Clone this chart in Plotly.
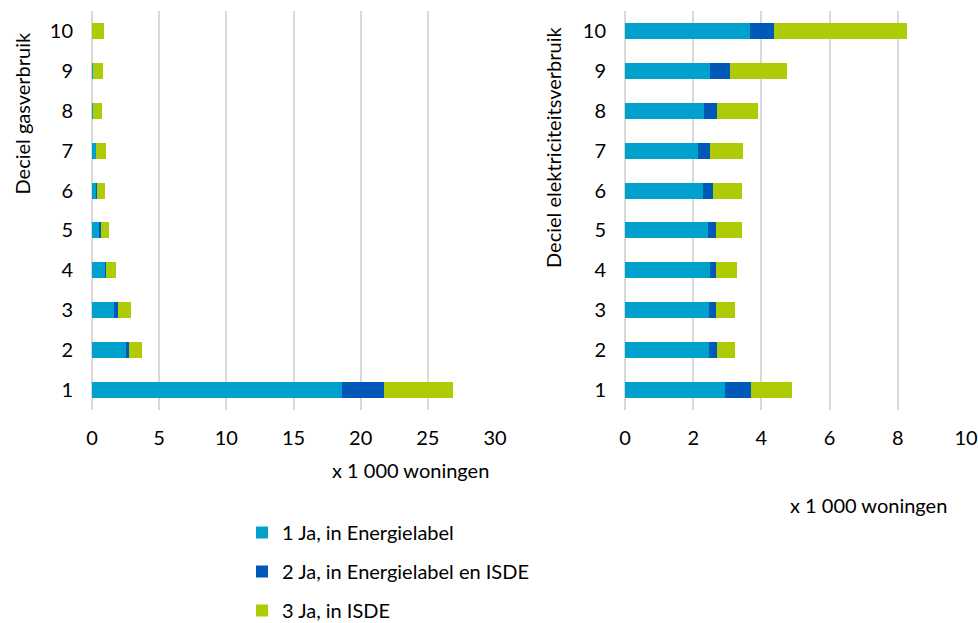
import plotly.graph_objects as go

W, H = 978, 623

deciles = ["1", "2", "3", "4", "5", "6", "7", "8", "9", "10"]
series_names = ["1 Ja, in Energielabel", "2 Ja, in Energielabel en ISDE", "3 Ja, in ISDE"]
colors = ["#00A1CD", "#0058B8", "#AFCB05"]

# Gas consumption deciles (x 1 000 woningen)
gas_label = [18.6, 2.52, 1.63, 0.99, 0.59, 0.35, 0.30, 0.07, 0.07, 0.02]
gas_both = [3.1, 0.25, 0.32, 0.03, 0.05, 0.03, 0.02, 0.0, 0.0, 0.0]
gas_isde = [5.14, 0.97, 0.99, 0.79, 0.62, 0.62, 0.72, 0.70, 0.77, 0.86]

# Electricity consumption deciles (x 1 000 woningen)
el_label = [2.93, 2.47, 2.47, 2.50, 2.44, 2.28, 2.13, 2.31, 2.49, 3.67]
el_both = [0.77, 0.23, 0.20, 0.18, 0.23, 0.31, 0.35, 0.40, 0.59, 0.70]
el_isde = [1.20, 0.53, 0.56, 0.61, 0.75, 0.84, 0.97, 1.19, 1.67, 3.90]

left_ticks = [0, 5, 10, 15, 20, 25, 30]
right_ticks = [0, 2, 4, 6, 8, 10]

FONT = "Lato"
FS = 20
grid = "#D9D9D9"

fig = go.Figure()
gas = [gas_label, gas_both, gas_isde]
el = [el_label, el_both, el_isde]
for i in range(3):
    fig.add_trace(go.Bar(y=deciles, x=gas[i], orientation="h", name=series_names[i],
                         marker=dict(color=colors[i], line=dict(width=0)),
                         xaxis="x", yaxis="y", legendgroup=f"g{i}", showlegend=True))
for i in range(3):
    fig.add_trace(go.Bar(y=deciles, x=el[i], orientation="h", name=series_names[i],
                         marker=dict(color=colors[i], line=dict(width=0)),
                         xaxis="x2", yaxis="y2", legendgroup=f"g{i}", showlegend=False))

ytop = 1 - 11 / H
ybot = 1 - 410 / H

axis_common = dict(showgrid=True, gridcolor=grid, gridwidth=1.5, zeroline=True,
                   zerolinecolor=grid, zerolinewidth=1.5, showline=False, ticks="",
                   tickfont=dict(family=FONT, size=FS, color="#000000"),
                   ticklabelstandoff=14, fixedrange=True, automargin=False)
yaxis_common = dict(type="category", categoryorder="array", categoryarray=deciles,
                    range=[-0.5, 9.5], showgrid=False, zeroline=False, showline=False,
                    ticks="", tickfont=dict(family=FONT, size=FS, color="#000000"),
                    ticklabelstandoff=18, fixedrange=True, automargin=False)

fig.update_layout(
    width=W, height=H,
    margin=dict(l=0, r=0, t=0, b=0, autoexpand=False),
    paper_bgcolor="white", plot_bgcolor="white",
    barmode="stack", bargap=0.6,
    font=dict(family=FONT, size=FS, color="#000000"),
    xaxis=dict(domain=[92 / W, 495 / W], range=[0, 30], tickvals=left_ticks,
               anchor="y", **axis_common),
    xaxis2=dict(domain=[625 / W, 966 / W], range=[0, 10], tickvals=right_ticks,
                anchor="y2", **axis_common),
    yaxis=dict(domain=[ybot, ytop], anchor="x", **yaxis_common),
    yaxis2=dict(domain=[ybot, ytop], anchor="x2", **yaxis_common),
    legend=dict(x=242 / W, y=1 - 513 / H, xanchor="left", yanchor="top",
                orientation="v", traceorder="grouped", tracegroupgap=10,
                font=dict(family=FONT, size=FS, color="#000000"),
                bgcolor="rgba(0,0,0,0)"),
    annotations=[
        dict(text="x 1 000 woningen", x=410 / W, y=1 - 470 / H, xref="paper", yref="paper",
             showarrow=False, xanchor="center", yanchor="middle",
             font=dict(family=FONT, size=FS)),
        dict(text="x 1 000 woningen", x=868 / W, y=1 - 505 / H, xref="paper", yref="paper",
             showarrow=False, xanchor="center", yanchor="middle",
             font=dict(family=FONT, size=FS)),
        dict(text="Deciel gasverbruik", x=21.5 / W, y=1 - 113 / H, xref="paper", yref="paper",
             showarrow=False, xanchor="center", yanchor="middle", textangle=-90,
             font=dict(family=FONT, size=FS)),
        dict(text="Deciel elektriciteitsverbruik", x=553 / W, y=1 - 148 / H, xref="paper",
             yref="paper", showarrow=False, xanchor="center", yanchor="middle",
             textangle=-90, font=dict(family=FONT, size=FS)),
    ],
)

fig.write_html("out.html")
